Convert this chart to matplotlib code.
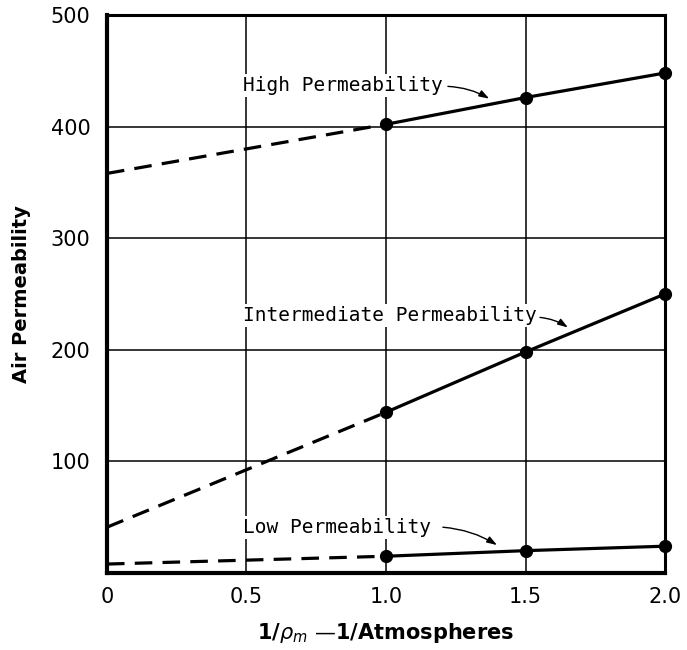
import matplotlib
matplotlib.use("Agg")
import matplotlib.pyplot as plt

# Data
x_meas = [1.0, 1.5, 2.0]
x_extrap = [0.0, 1.0]
high = [402, 426, 448]
high_ext = [358, 402]
inter = [144, 198, 250]
inter_ext = [41, 144]
low = [15, 20, 24]
low_ext = [8, 15]

xticks = [0, 0.5, 1.0, 1.5, 2.0]
xticklabels = ["0", "0.5", "1.0", "1.5", "2.0"]
yticks = [100, 200, 300, 400, 500]
yticklabels = ["100", "200", "300", "400", "500"]

labels = ["High Permeability", "Intermediate Permeability", "Low Permeability"]

fig = plt.figure(figsize=(6.87, 6.5), dpi=100)
ax = fig.add_axes([0.1557, 0.1185, 0.8123, 0.8585])
ax.set_xlim(0, 2.0)
ax.set_ylim(0, 500)

for v in [0.5, 1.0, 1.5]:
    ax.axvline(v, color="black", lw=1.1, zorder=1)
for v in [100, 200, 300, 400]:
    ax.axhline(v, color="black", lw=1.1, zorder=1)

for ys, ye in [(high, high_ext), (inter, inter_ext), (low, low_ext)]:
    ax.plot(x_meas, ys, color="black", lw=2.3, marker="o", ms=8.5, zorder=4,
            clip_on=False)
    ax.plot(x_extrap, ye, color="black", lw=2.3, dashes=(5.5, 3.2), zorder=3,
            clip_on=False)

font = dict(family="DejaVu Sans Mono", fontsize=14, color="black")
bbox = dict(facecolor="white", edgecolor="none", pad=1.5)
arrow = dict(arrowstyle="-|>,head_length=0.6,head_width=0.2", color="black",
             lw=1.0, connectionstyle="arc3,rad=-0.12", shrinkA=0, shrinkB=0)

ax.text(0.487, 437, labels[0], ha="left", va="center", bbox=bbox, zorder=5, **font)
ax.annotate("", xy=(1.37, 425), xytext=(1.222, 436), arrowprops=arrow, zorder=6)

ax.text(0.487, 231, labels[1], ha="left", va="center", bbox=bbox, zorder=5, **font)
ax.annotate("", xy=(1.652, 220), xytext=(1.552, 229), arrowprops=arrow, zorder=6)

ax.text(0.487, 41, labels[2], ha="left", va="center", bbox=bbox, zorder=5, **font)
ax.annotate("", xy=(1.398, 25), xytext=(1.204, 41), arrowprops=arrow, zorder=6)

ax.set_xticks(xticks)
ax.set_xticklabels(xticklabels)
ax.set_yticks(yticks)
ax.set_yticklabels(yticklabels)
ax.tick_params(length=0, labelsize=15, pad=12)
ax.tick_params(axis="x", pad=10)

for s in ax.spines.values():
    s.set_linewidth(2.2)
    s.set_zorder(6)
ax.spines["left"].set_linewidth(3)
ax.spines["bottom"].set_linewidth(3)

ax.set_ylabel("Air Permeability", fontsize=14, fontweight="bold", labelpad=14)
ax.set_xlabel(r"1/$\rho_m$ —1/Atmospheres", fontsize=15, fontweight="bold", labelpad=10)

fig.savefig("out.png", dpi=100)
